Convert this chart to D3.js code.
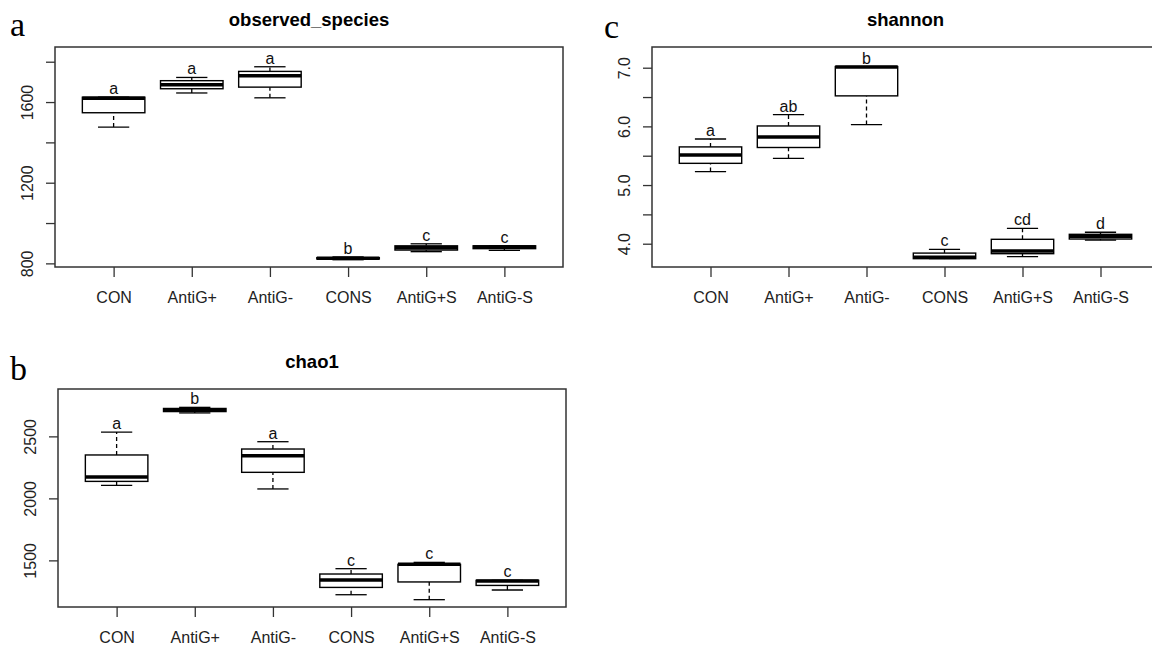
<!DOCTYPE html>
<html>
<head>
<meta charset="utf-8">
<script src="https://cdn.jsdelivr.net/npm/d3@7"></script>
<style>
  body { margin: 0; background: #fff; }
  svg { display: block; }
</style>
</head>
<body>
<div id="chart"></div>
<script>
// groups on the x axis
const groups = ["CON", "AntiG+", "AntiG-", "CONS", "AntiG+S", "AntiG-S"];

// boxplot stats: [min, q1, median, q3, max]
const observedStats = [
  [1476, 1547, 1619, 1624, 1624],
  [1645, 1666, 1686, 1706, 1722],
  [1621, 1674, 1730, 1752, 1775],
  [818, 822, 825, 828, 832],
  [858, 866, 877, 887, 897],
  [864, 873, 881, 887, 888]
];
const observedLetters = ["a", "a", "a", "b", "c", "c"];
const observedTicks = [800, 1000, 1200, 1400, 1600, 1800];
const observedLabels = [800, 1200, 1600];

const shannonStats = [
  [5.23, 5.37, 5.51, 5.65, 5.785],
  [5.455, 5.64, 5.82, 6.007, 6.20],
  [6.03, 6.52, 7.01, 7.02, 7.02],
  [3.745, 3.745, 3.77, 3.84, 3.905],
  [3.78, 3.83, 3.877, 4.075, 4.26],
  [4.06, 4.08, 4.126, 4.16, 4.195]
];
const shannonLetters = ["a", "ab", "b", "c", "cd", "d"];
const shannonTicks = [4.0, 4.5, 5.0, 5.5, 6.0, 6.5, 7.0];
const shannonLabels = [4.0, 5.0, 6.0, 7.0];

const chao1Stats = [
  [2105, 2137, 2173, 2350, 2535],
  [2689, 2700, 2713, 2725, 2734],
  [2076, 2210, 2344, 2398, 2457],
  [1223, 1282, 1342, 1390, 1433],
  [1183, 1326, 1468, 1468, 1484],
  [1261, 1298, 1334, 1339, 1339]
];
const chao1Letters = ["a", "b", "a", "c", "c", "c"];
const chao1Ticks = [1500, 2000, 2500];
const chao1Labels = [1500, 2000, 2500];

const svg = d3.select("#chart").append("svg")
  .attr("width", 1152)
  .attr("height", 650);

const sans = "'Liberation Sans', Arial, Helvetica, sans-serif";
const serif = "'Liberation Serif', 'Times New Roman', serif";

function drawPanel(p) {
  const x = d3.scaleLinear().domain([0.25, 6.75]).range([p.left, p.right]);
  const y = d3.scaleLinear().domain(p.yDomain).range([p.bottom, p.top]);
  const g = svg.append("g");

  // panel letter
  g.append("text")
    .attr("x", p.letterX).attr("y", p.letterY)
    .attr("font-family", serif).attr("font-size", 34)
    .text(p.panel);

  // title
  g.append("text")
    .attr("x", (p.left + p.right) / 2).attr("y", p.top - 21)
    .attr("text-anchor", "middle")
    .attr("font-family", sans).attr("font-size", 18.5).attr("font-weight", "bold")
    .text(p.title);

  // y axis
  const yAxis = g.append("g")
    .attr("transform", `translate(${p.left},0)`)
    .call(d3.axisLeft(y).tickValues(p.ticks).tickSize(9)
      .tickFormat(d => p.labels.includes(d) ? p.fmt(d) : ""));
  yAxis.select(".domain").remove();
  yAxis.selectAll("line").attr("stroke", "#333").attr("stroke-width", 1.3);
  yAxis.selectAll("text")
    .attr("font-family", sans).attr("font-size", 16).attr("fill", "#222")
    .attr("x", null).attr("dy", null)
    .attr("text-anchor", "middle")
    .attr("transform", "translate(-22,0) rotate(-90)");

  // x axis
  const xAxis = g.append("g")
    .attr("transform", `translate(0,${p.bottom})`)
    .call(d3.axisBottom(x).tickValues(d3.range(1, groups.length + 1)).tickSize(10)
      .tickFormat(d => groups[d - 1]));
  xAxis.select(".domain").remove();
  xAxis.selectAll("line").attr("stroke", "#333").attr("stroke-width", 1.3);
  xAxis.selectAll("text")
    .attr("font-family", sans).attr("font-size", 16).attr("fill", "#222")
    .attr("dy", null).attr("y", 36);

  // boxes
  const halfW = (x(1.4) - x(1));
  const boxes = g.selectAll(".box")
    .data(p.stats)
    .join("g")
    .attr("class", "box");

  boxes.append("line")
    .attr("x1", (d, i) => x(i + 1)).attr("x2", (d, i) => x(i + 1))
    .attr("y1", d => y(d[3])).attr("y2", d => y(d[4]))
    .attr("stroke", "#000").attr("stroke-width", 1.3).attr("stroke-dasharray", "4,3");
  boxes.append("line")
    .attr("x1", (d, i) => x(i + 1)).attr("x2", (d, i) => x(i + 1))
    .attr("y1", d => y(d[0])).attr("y2", d => y(d[1]))
    .attr("stroke", "#000").attr("stroke-width", 1.3).attr("stroke-dasharray", "4,3");
  [0, 4].forEach(k => {
    boxes.append("line")
      .attr("x1", (d, i) => x(i + 1) - halfW / 2).attr("x2", (d, i) => x(i + 1) + halfW / 2)
      .attr("y1", d => y(d[k])).attr("y2", d => y(d[k]))
      .attr("stroke", "#000").attr("stroke-width", 1.3);
  });
  boxes.append("rect")
    .attr("x", (d, i) => x(i + 1) - halfW)
    .attr("width", halfW * 2)
    .attr("y", d => y(d[3]))
    .attr("height", d => Math.max(0.5, y(d[1]) - y(d[3])))
    .attr("fill", "#fff").attr("stroke", "#000").attr("stroke-width", 1.4);
  boxes.append("line")
    .attr("x1", (d, i) => x(i + 1) - halfW).attr("x2", (d, i) => x(i + 1) + halfW)
    .attr("y1", d => y(d[2])).attr("y2", d => y(d[2]))
    .attr("stroke", "#000").attr("stroke-width", 3.5);

  // significance letters
  boxes.append("text")
    .attr("x", (d, i) => x(i + 1))
    .attr("y", d => y(d[4]) - 3)
    .attr("text-anchor", "middle")
    .attr("font-family", sans).attr("font-size", 16).attr("fill", "#111")
    .text((d, i) => p.letters[i]);

  // frame
  g.append("rect")
    .attr("x", p.left).attr("y", p.top)
    .attr("width", p.right - p.left).attr("height", p.bottom - p.top)
    .attr("fill", "none").attr("stroke", "#333").attr("stroke-width", 1.5);
}

drawPanel({
  panel: "a", letterX: 10, letterY: 36, title: "observed_species",
  left: 55, right: 563, top: 47, bottom: 267, yDomain: [782, 1873],
  stats: observedStats, letters: observedLetters,
  ticks: observedTicks, labels: observedLabels, fmt: d3.format("d")
});

drawPanel({
  panel: "c", letterX: 604, letterY: 38, title: "shannon",
  left: 652, right: 1159, top: 47, bottom: 267, yDomain: [3.603, 7.353],
  stats: shannonStats, letters: shannonLetters,
  ticks: shannonTicks, labels: shannonLabels, fmt: d3.format(".1f")
});

drawPanel({
  panel: "b", letterX: 10, letterY: 380, title: "chao1",
  left: 58, right: 566, top: 389, bottom: 607, yDomain: [1124, 2882],
  stats: chao1Stats, letters: chao1Letters,
  ticks: chao1Ticks, labels: chao1Labels, fmt: d3.format("d")
});
</script>
</body>
</html>
